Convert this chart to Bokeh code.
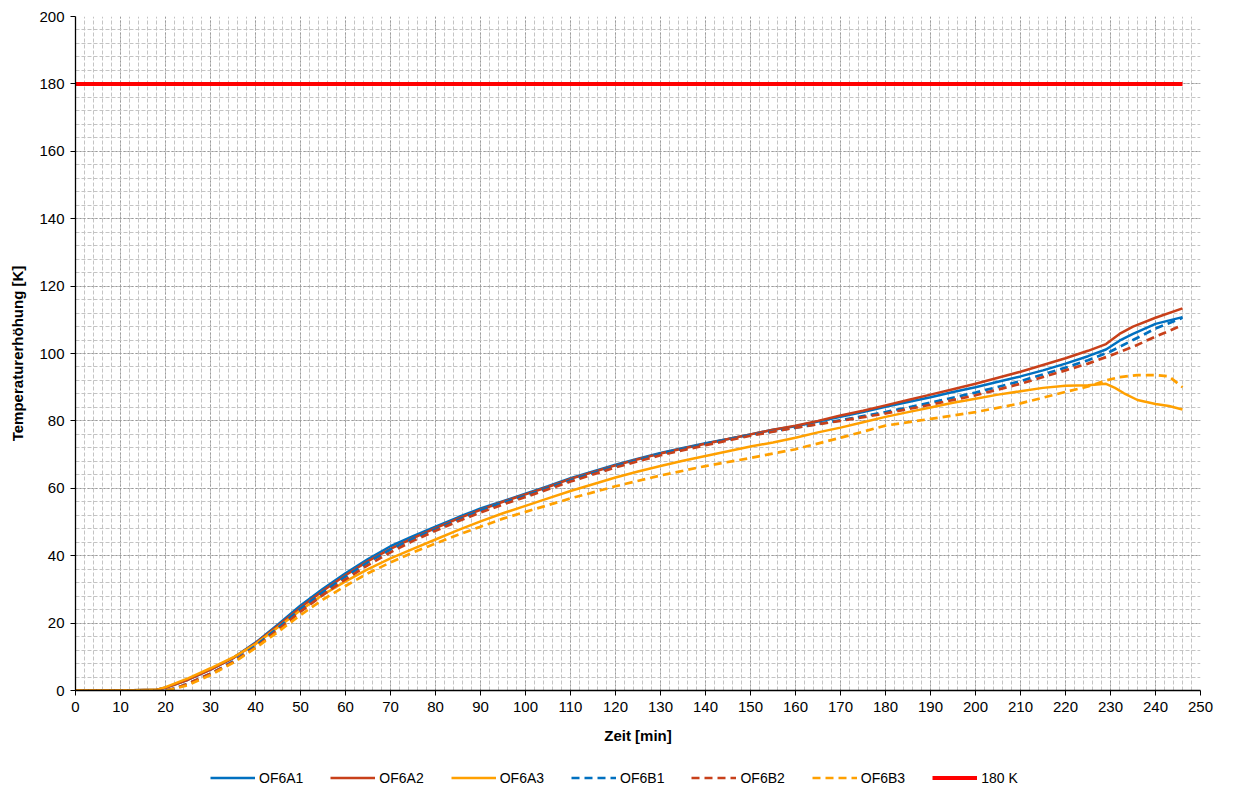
from bokeh.plotting import figure
from bokeh.layouts import column
from bokeh.models import SingleIntervalTicker, Legend, LegendItem
from bokeh.embed import file_html
from bokeh.resources import INLINE

# ---- data ----
t_a1 = [0, 10, 18, 20, 25, 30, 35, 40, 45, 50, 55, 60, 65, 70, 75, 80, 85, 90, 95, 100, 105, 110, 115, 120, 125, 130, 135, 140, 145, 150, 155, 160, 165, 170, 175, 180, 185, 190, 195, 200, 205, 210, 215, 220, 225, 229, 232, 235, 240, 246]
y_a1 = [0, 0, 0.2, 0.8, 3.2, 6.2, 9.6, 14.2, 19.6, 25.2, 30.2, 34.8, 39.0, 42.8, 45.8, 48.6, 51.4, 54.0, 56.2, 58.4, 60.6, 63.0, 65.0, 67.0, 68.8, 70.5, 72.0, 73.4, 74.6, 76.0, 77.4, 78.4, 79.8, 81.2, 82.6, 84.2, 85.6, 87.0, 88.6, 90.0, 91.6, 93.2, 95.0, 97.0, 99.2, 101.2, 103.8, 105.8, 108.8, 110.8]

t_a2 = [0, 10, 18, 20, 25, 30, 35, 40, 45, 50, 55, 60, 65, 70, 75, 80, 85, 90, 95, 100, 105, 110, 115, 120, 125, 130, 135, 140, 145, 150, 155, 160, 165, 170, 175, 180, 185, 190, 195, 200, 205, 210, 215, 220, 225, 229, 232, 235, 240, 246]
y_a2 = [0, 0, 0.2, 0.8, 3.2, 6.2, 9.6, 14.0, 19.2, 24.6, 29.6, 34.2, 38.4, 42.0, 45.2, 48.2, 51.0, 53.6, 56.0, 58.2, 60.4, 62.8, 64.8, 66.8, 68.6, 70.3, 71.8, 73.2, 74.6, 76.0, 77.4, 78.6, 80.0, 81.6, 83.0, 84.6, 86.2, 87.8, 89.4, 91.0, 92.8, 94.6, 96.6, 98.6, 100.8, 102.8, 105.8, 108.0, 110.6, 113.4]

t_a3 = [0, 10, 18, 20, 25, 30, 35, 40, 45, 50, 55, 60, 65, 70, 75, 80, 85, 90, 95, 100, 105, 110, 115, 120, 125, 130, 135, 140, 145, 150, 155, 160, 165, 170, 175, 180, 185, 190, 195, 200, 205, 210, 215, 220, 225, 229, 231, 233, 236, 240, 243, 246]
y_a3 = [0, 0, 0.2, 1.0, 3.6, 6.6, 9.8, 13.8, 18.8, 23.8, 28.4, 32.4, 36.0, 39.2, 42.0, 44.8, 47.6, 50.2, 52.6, 54.8, 57.0, 59.2, 61.2, 63.2, 65.0, 66.6, 68.2, 69.6, 71.0, 72.4, 73.6, 75.0, 76.6, 78.0, 79.6, 81.2, 82.6, 84.0, 85.4, 86.6, 87.8, 88.8, 89.8, 90.4, 90.6, 91.0, 89.8, 88.2, 86.2, 85.0, 84.4, 83.4]

t_b1 = [0, 10, 20, 22, 25, 30, 35, 40, 45, 50, 55, 60, 65, 70, 75, 80, 85, 90, 95, 100, 110, 120, 130, 140, 150, 160, 170, 180, 190, 200, 210, 220, 225, 230, 235, 240, 246]
y_b1 = [0, 0, 0, 0.6, 2.0, 5.0, 8.6, 13.2, 18.6, 24.2, 29.2, 33.8, 38.0, 41.8, 45.0, 47.8, 50.6, 53.4, 55.8, 57.8, 62.4, 66.6, 70.2, 73.2, 75.8, 78.0, 80.2, 82.6, 85.4, 88.4, 91.8, 95.8, 98.0, 100.6, 104.0, 107.4, 110.6]

t_b2 = [0, 10, 20, 22, 25, 30, 35, 40, 45, 50, 55, 60, 65, 70, 75, 80, 85, 90, 95, 100, 110, 120, 130, 140, 150, 160, 170, 180, 190, 200, 210, 220, 225, 230, 235, 240, 246]
y_b2 = [0, 0, 0, 0.6, 2.0, 5.0, 8.4, 12.8, 18.0, 23.4, 28.4, 33.0, 37.2, 41.0, 44.4, 47.4, 50.2, 52.8, 55.2, 57.4, 62.0, 66.2, 69.8, 72.8, 75.6, 78.0, 80.0, 82.2, 84.8, 87.6, 91.0, 95.0, 97.0, 99.4, 102.0, 105.0, 108.4]

t_b3 = [0, 10, 20, 22, 25, 30, 35, 40, 45, 50, 55, 60, 65, 70, 75, 80, 85, 90, 95, 100, 110, 120, 130, 140, 150, 160, 170, 180, 190, 200, 210, 220, 225, 229, 232, 236, 240, 243, 246]
y_b3 = [0, 0, 0, 0.5, 1.6, 4.6, 8.2, 12.6, 17.4, 22.4, 27.0, 31.0, 34.8, 38.0, 41.0, 43.6, 46.2, 48.6, 51.0, 53.0, 57.0, 60.6, 63.8, 66.6, 69.0, 71.6, 75.0, 78.6, 80.6, 82.6, 85.2, 88.6, 90.2, 92.0, 93.0, 93.6, 93.6, 93.2, 90.0]

t_lim = [0, 246]
y_lim = [180, 180]

names = ["OF6A1", "OF6A2", "OF6A3", "OF6B1", "OF6B2", "OF6B3", "180 K"]

BLUE = "#0070C0"
RED = "#C8401A"
ORANGE = "#FFA000"
LIMIT = "#FF0000"

FONT = "Liberation Sans"

styles = [
    dict(line_color=BLUE, line_width=2.5),
    dict(line_color=RED, line_width=2.5),
    dict(line_color=ORANGE, line_width=2.5),
    dict(line_color=BLUE, line_width=2.7, line_dash="8 5"),
    dict(line_color=RED, line_width=2.7, line_dash="8 5"),
    dict(line_color=ORANGE, line_width=2.7, line_dash="8 5"),
    dict(line_color=LIMIT, line_width=4),
]
series = [(t_a1, y_a1), (t_a2, y_a2), (t_a3, y_a3), (t_b1, y_b1), (t_b2, y_b2), (t_b3, y_b3), (t_lim, y_lim)]

p = figure(width=1225, height=749, x_range=(0, 250), y_range=(0, 200),
           output_backend="svg", toolbar_location=None,
           min_border_left=75, min_border_right=25, min_border_top=16, min_border_bottom=59)
p.outline_line_color = None
p.background_fill_color = "white"

p.xaxis.ticker = SingleIntervalTicker(interval=10, num_minor_ticks=5)
p.yaxis.ticker = SingleIntervalTicker(interval=20, num_minor_ticks=5)

for ax in (p.xaxis, p.yaxis):
    ax.axis_line_color = "black"
    ax.axis_line_width = 1.3
    ax.major_tick_line_color = "black"
    ax.major_tick_out = 5
    ax.major_tick_in = 0
    ax.minor_tick_line_color = None
    ax.major_label_text_font = FONT
    ax.major_label_text_font_size = "15px"
    ax.major_label_text_color = "black"
    ax.axis_label_text_font = FONT
    ax.axis_label_text_font_size = "15px"
    ax.axis_label_text_font_style = "bold"
    ax.axis_label_text_color = "black"

p.xaxis.axis_label = "Zeit [min]"
p.yaxis.axis_label = "Temperaturerhöhung [K]"
p.xaxis.axis_label_standoff = 12
p.yaxis.axis_label_standoff = 10
p.xaxis.major_label_standoff = 6
p.yaxis.major_label_standoff = 6

for g in (p.xgrid, p.ygrid):
    g.grid_line_color = "#9a9a9a"
    g.grid_line_dash = "2 2"
    g.grid_line_width = 1
    g.minor_grid_line_color = "#c4c4c4"
    g.minor_grid_line_dash = "4 2"
    g.minor_grid_line_width = 1

for (tx, ty), st in zip(series, styles):
    p.line(tx, ty, **st)

# legend strip (separate blank figure below the chart; proxies lie outside its ranges)
q = figure(width=1225, height=40, x_range=(0, 1), y_range=(0, 1),
           output_backend="svg", toolbar_location=None,
           min_border_left=0, min_border_right=0, min_border_top=0, min_border_bottom=0)
q.axis.visible = False
q.grid.visible = False
q.outline_line_color = None
proxies = [q.line(tx[-1:], ty[-1:], **st) for (tx, ty), st in zip(series, styles)]

legend = Legend(items=[LegendItem(label=n, renderers=[r]) for n, r in zip(names, proxies)],
                orientation="horizontal", location=(135, 3),
                label_text_font=FONT, label_text_font_size="14px", label_text_color="black",
                glyph_width=45, glyph_height=17, label_standoff=4, spacing=27,
                border_line_color=None, background_fill_alpha=0, margin=0, padding=0)
q.add_layout(legend, "center")

open("out.html", "w").write(file_html(column(p, q, spacing=0), INLINE))
